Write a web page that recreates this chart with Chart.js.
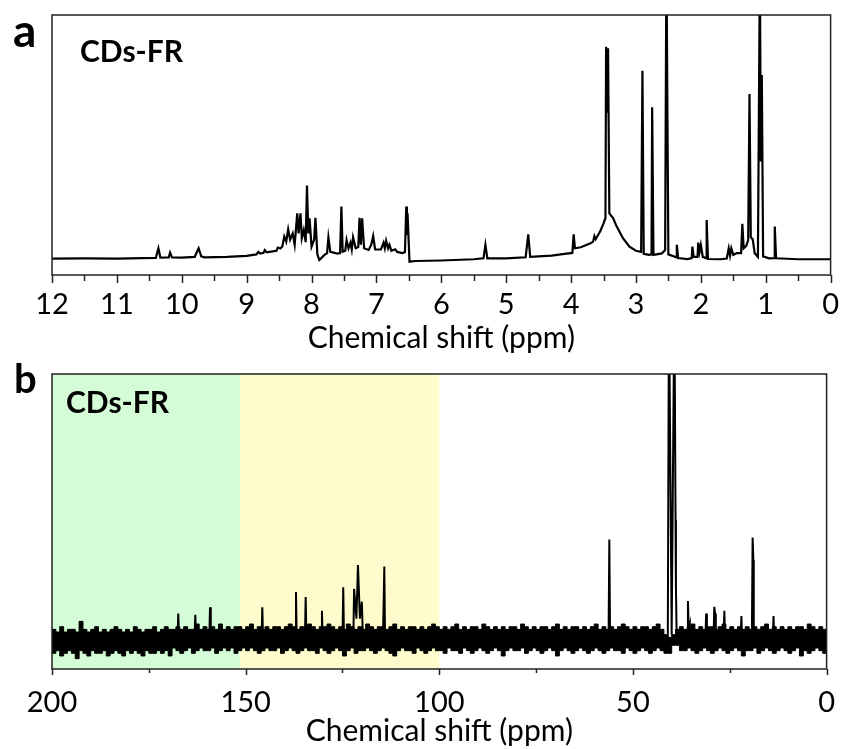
<!DOCTYPE html>
<html>
<head>
<meta charset="utf-8">
<script src="https://cdn.jsdelivr.net/npm/chart.js@4.4.0/dist/chart.umd.min.js"></script>
<style>
  body { margin: 0; background: #fff; }
  #wrap { position: relative; width: 843px; height: 749px; }
  canvas { position: absolute; left: 0; }
  #chartA { top: 0; }
  #chartB { top: 360px; }
</style>
</head>
<body>
<div id="wrap">
  <canvas id="chartA" width="843" height="360"></canvas>
  <canvas id="chartB" width="843" height="389"></canvas>
</div>
<script>
// ---- panel a: 1H spectrum (ppm, relative intensity; 100 = top of frame) ----
var hPpm = [12, 11.5, 11, 10.6, 10.4, 10.36, 10.33, 10.2, 10.18, 10.15, 10.0, 9.8, 9.74, 9.7, 9.65, 9.3, 9.0,
  8.85, 8.82, 8.79, 8.74, 8.72, 8.69, 8.6, 8.54, 8.52, 8.48, 8.45, 8.42, 8.39, 8.36, 8.33, 8.29, 8.26, 8.22, 8.2,
  8.17, 8.15, 8.12, 8.09, 8.07, 8.05, 8.03, 8.0, 7.96, 7.94, 7.91, 7.88, 7.8, 7.76, 7.74, 7.71, 7.6, 7.56, 7.54,
  7.52, 7.48, 7.46, 7.43, 7.4, 7.38, 7.36, 7.32, 7.28, 7.26, 7.24, 7.22, 7.19, 7.12, 7.08, 7.05, 7.02, 6.93, 6.89,
  6.87, 6.85, 6.82, 6.8, 6.77, 6.71, 6.68, 6.6, 6.56, 6.54, 6.53, 6.52, 6.49, 6.4, 6.0, 5.5, 5.35, 5.32, 5.29, 5.0,
  4.7, 4.66, 4.63, 4.3, 4.1, 3.98, 3.96, 3.94, 3.85, 3.7, 3.66, 3.64, 3.62, 3.55, 3.5, 3.47, 3.46, 3.445, 3.43,
  3.41, 3.35, 3.3, 3.2, 3.1, 3.0, 2.92, 2.9, 2.88, 2.8, 2.76, 2.75, 2.73, 2.6, 2.55, 2.53, 2.515, 2.5, 2.4, 2.38,
  2.37, 2.35, 2.2, 2.14, 2.13, 2.11, 2.05, 2.04, 2.02, 2.0, 1.97, 1.92, 1.91, 1.89, 1.7, 1.6, 1.57, 1.55, 1.53,
  1.5, 1.45, 1.38, 1.36, 1.34, 1.3, 1.27, 1.25, 1.23, 1.2, 1.17, 1.12, 1.09, 1.075, 1.06, 1.04, 0.95, 0.87, 0.86,
  0.84, 0.5, 0];
var hInt = [0.3, 0.4, 0.3, 0.5, 0.6, 4.5, 0.7, 0.8, 2.7, 0.8, 0.7, 1.0, 4.5, 1.2, 0.8, 1.0, 1.4,
  2.0, 3.0, 2.3, 2.6, 3.8, 2.8, 3.2, 3.5, 4.8, 4.4, 5.2, 9.3, 7.2, 12.3, 8.0, 10.6, 5.9, 18.8, 10.6,
  18.8, 8.6, 12, 7.0, 30.2, 10.6, 16.8, 5.2, 8.0, 17, 2.0, -0.3, 1.8, 2.5, 9, 3.0, 2.3, 2.5, 21.6,
  3.1, 3.5, 7.9, 4.5, 6.8, 4.0, 9, 4.5, 5, 17, 6, 16.8, 4.5, 3.8, 5.9, 9.5, 4.0, 4.0, 6.8,
  4.5, 7.6, 4.5, 5.9, 3.5, 4.1, 3.0, 2.5, 3.0, 21.6, 10, 18.8, -1.0, -0.7, -0.5, 0, 0.4, 5.9, 0.4, 0.4,
  0.8, 10.2, 1.0, 1.5, 2.2, 2.6, 10.2, 4.5, 4.9, 6.5, 7.2, 9.5, 8.3, 11.5, 14.7, 16.8, 87, 60, 86.4,
  18.8, 16.8, 13.6, 8.6, 5.2, 3.5, 3.0, 77.2, 2.2, 1.8, 2.0, 62.2, 1.8, 2.4, 3.8, 125, 59.8, 2.0, 1.0, 0.8,
  5.9, 0.5, 0.1, 0.5, 5.2, 1.0, 1.0, 6.8, 3.0, 5.9, 1.0, 0.5, 16.1, 0.1, 0, 0.3, 4.5, 1.5, 4.5,
  1.8, 2.5, 2.5, 14.5, 4.5, 5.5, 7.9, 67.7, 9, 8.2, 2.5, 1.0, 120, 40, 75.4, 1.2, 0.4, 0.5, 13.4,
  0.4, 0, 0];
var hMajorTicks = [12, 11, 10, 9, 8, 7, 6, 5, 4, 3, 2, 1, 0];
var hMinorTicks = [11.5, 10.5, 9.5, 8.5, 7.5, 6.5, 5.5, 4.5, 3.5, 2.5, 1.5, 0.5];

// ---- panel b: 13C spectrum ----
// resolved lines (ppm, intensity; baseline 0, 100 = top of frame)
var cPpm = [200, 192.8, 192.6, 192.4, 167.6, 167.4, 167.2, 163.2, 163, 162.8, 159.4, 159.2, 159,
  145.9, 145.7, 145.5, 137.2, 137, 136.8, 134.7, 134.5, 134.3, 130.5, 130.3, 130.1, 125, 124.8, 124.6,
  122.2, 122, 121.4, 121, 120.5, 120, 119.7, 114.6, 114.4, 114.2, 114, 56.3, 56.1, 55.9,
  41.0, 40.7, 40.0, 39.3, 39.0, 38.9, 38.7, 36, 35.8, 35.6, 35.3, 35.2, 31.3, 31.1, 30.9,
  29.2, 29, 28.8, 28.6, 26.6, 26.4, 26.2, 22.2, 22, 21.8, 19.3, 19.1, 18.9, 18.8, 13.9, 13.7, 13.5, 0];
var cInt = [0, 0, 7, 0, 0, 10, 0, 0, 9.5, 0, 0, 12.3, 0,
  0, 12.3, 0, 0, 18, 0, 0, 16.2, 0, 0, 11, 0, 0, 19.8, 0,
  0, 19.2, 8, 28.2, 8, 14.4, 0, 0, 11, 27.6, 0, 0, 37.8, 0,
  0, 130, 2, 130, 45, 20, 0, 0, 14.7, 4, 6, 0, 0, 10, 0,
  0, 12.5, 10, 0, 0, 11, 0, 0, 9, 0, 0, 38.5, 30, 0, 0, 9, 0, 0];
// noise band envelope, read every 1 ppm from 200 down to 0
var noiseHi = [
  3, 4, 3, 5, 3, 4, 4, 3, 7, 4, 3, 4, 5, 3, 4, 3, 4, 5, 4, 3,
  4, 3, 5, 4, 3, 4, 4, 5, 3, 4, 5, 4, 4, 5, 4, 5, 4, 4, 6, 4,
  5, 4, 5, 4, 6, 4, 5, 4, 5, 5, 4, 5, 6, 4, 5, 4, 5, 4, 5, 5,
  4, 5, 6, 5, 4, 5, 5, 6, 5, 4, 5, 5, 6, 5, 4, 5, 4, 6, 5, 4,
  5, 4, 6, 5, 4, 5, 5, 4, 5, 6, 4, 5, 4, 5, 5, 4, 5, 4, 5, 6,
  5, 4, 5, 4, 5, 6, 4, 5, 4, 5, 5, 4, 6, 5, 4, 5, 4, 5, 4, 5,
  5, 4, 6, 5, 4, 5, 4, 5, 5, 4, 5, 6, 4, 5, 4, 5, 5, 4, 5, 4,
  5, 6, 4, 5, 4, 5, 4, 5, 6, 5, 4, 5, 4, 5, 5, 4, 5, 6, 4, 2,
  1, 2, 4, 5, 4, 5, 6, 4, 5, 4, 5, 5, 4, 5, 6, 4, 5, 4, 5, 4,
  5, 4, 5, 4, 5, 6, 4, 5, 4, 5, 4, 5, 4, 5, 5, 4, 6, 5, 4, 5,
  4];
var noiseLo = [
  -5, -4, -6, -5, -4, -5, -7, -4, -5, -6, -4, -5, -5, -4, -6, -5, -4, -5, -6, -4,
  -5, -4, -5, -6, -4, -5, -5, -4, -5, -4, -6, -3, -4, -5, -4, -3, -5, -4, -3, -4,
  -4, -3, -5, -4, -3, -4, -3, -5, -4, -3, -4, -3, -4, -5, -4, -3, -4, -4, -3, -5,
  -4, -3, -4, -5, -4, -3, -4, -4, -5, -3, -4, -5, -4, -3, -4, -6, -4, -3, -5, -4,
  -4, -3, -4, -5, -4, -3, -4, -5, -6, -4, -3, -4, -4, -5, -3, -4, -5, -4, -3, -4,
  -4, -5, -3, -4, -4, -5, -3, -4, -5, -4, -3, -4, -5, -4, -3, -4, -6, -4, -3, -4,
  -4, -3, -5, -4, -3, -4, -5, -4, -3, -4, -6, -4, -3, -4, -5, -4, -3, -4, -5, -4,
  -3, -4, -5, -4, -3, -4, -4, -5, -3, -4, -5, -4, -3, -4, -5, -4, -3, -4, -5, -5,
  -2, -2, -4, -4, -3, -4, -5, -4, -3, -4, -5, -4, -3, -4, -5, -4, -3, -4, -6, -4,
  -4, -3, -5, -4, -3, -4, -5, -4, -3, -4, -5, -4, -3, -6, -4, -5, -4, -3, -4, -5,
  -4];
var cMajorTicks = [200, 150, 100, 50, 0];
var cMinorTicks = [175, 125, 75, 25];
// shaded regions
var regionFrom = [200, 151.5];
var regionTo = [151.5, 100];
var regionColor = ['#d4fcd6', '#fefccc'];

// Frame, shaded bands, tick marks and panel labels
var framePlugin = {
    id: 'frame',
    beforeDatasetsDraw: function(chart, args, opts) {
        var ctx = chart.ctx, ca = chart.chartArea, x = chart.scales.x;
        (opts.bands || []).forEach(function(b) {
            var x1 = x.getPixelForValue(b.from), x2 = x.getPixelForValue(b.to);
            ctx.fillStyle = b.color;
            ctx.fillRect(Math.min(x1, x2), ca.top, Math.abs(x2 - x1), ca.bottom - ca.top);
        });
    },
    afterDraw: function(chart, args, opts) {
        var ctx = chart.ctx, ca = chart.chartArea, x = chart.scales.x;
        ctx.save();
        ctx.strokeStyle = '#222';
        ctx.lineWidth = 1.5;
        ctx.strokeRect(ca.left, ca.top, ca.right - ca.left, ca.bottom - ca.top);
        ctx.beginPath();
        opts.major.forEach(function(v) {
            var px = Math.round(x.getPixelForValue(v)) + 0.5;
            ctx.moveTo(px, ca.bottom);
            ctx.lineTo(px, ca.bottom + opts.majorLen);
        });
        opts.minor.forEach(function(v) {
            var px = Math.round(x.getPixelForValue(v)) + 0.5;
            ctx.moveTo(px, ca.bottom);
            ctx.lineTo(px, ca.bottom + opts.minorLen);
        });
        ctx.stroke();
        ctx.fillStyle = '#000';
        ctx.textBaseline = 'alphabetic';
        ctx.font = 'bold ' + opts.letterSize + 'px Lato';
        ctx.fillText(opts.letter, opts.letterX, opts.letterY);
        ctx.font = 'bold 30px Lato';
        ctx.fillText('CDs-FR', opts.nameX, opts.nameY);
        ctx.restore();
    }
};

function xAxis(min, max, step, height, tickPad, titlePad) {
    return {
        type: 'linear', reverse: true, min: min, max: max,
        afterFit: function(s) { s.height = height; },
        grid: { display: false, drawTicks: true, tickLength: 8 },
        border: { display: false },
        ticks: {
            stepSize: step, autoSkip: false, maxRotation: 0, color: '#000', padding: tickPad,
            font: { family: 'Lato', size: 29 },
            callback: function(v) { return v; }
        },
        title: {
            display: true, text: 'Chemical shift (ppm)', color: '#000',
            font: { family: 'Lato', size: 30 }, padding: { top: 0, bottom: titlePad }
        }
    };
}

function points(xs, ys) {
    return xs.map(function(p, i) { return { x: p, y: ys[i] }; });
}

// Panel a
new Chart(document.getElementById('chartA'), {
    type: 'line',
    data: {
        datasets: [{
            data: points(hPpm, hInt),
            borderColor: '#000', borderWidth: 2.2, pointRadius: 0, tension: 0
        }]
    },
    options: {
        responsive: false, animation: false,
        layout: { padding: { left: 52, right: 11, top: 15, bottom: 0 } },
        plugins: {
            legend: { display: false }, tooltip: { enabled: false },
            frame: {
                major: hMajorTicks, minor: hMinorTicks, majorLen: 8, minorLen: 6,
                letter: 'a', letterSize: 46, letterX: 13, letterY: 47, nameX: 80, nameY: 62
            }
        },
        scales: {
            x: xAxis(0, 12, 1, 85, 4, 4),
            y: { display: false, min: -6.44, max: 100 }
        }
    },
    plugins: [framePlugin]
});

// Panel b
var ppmGrid = noiseHi.map(function(_, i) { return 200 - i; });
var bands = regionFrom.map(function(f, i) { return { from: f, to: regionTo[i], color: regionColor[i] }; });

new Chart(document.getElementById('chartB'), {
    type: 'line',
    data: {
        datasets: [{
            data: points(ppmGrid, noiseHi),
            borderColor: '#000', borderWidth: 1, backgroundColor: '#000',
            fill: '+1', pointRadius: 0, stepped: 'after'
        }, {
            data: points(ppmGrid, noiseLo),
            borderColor: '#000', borderWidth: 1, fill: false, pointRadius: 0, stepped: 'before'
        }, {
            data: points(cPpm, cInt),
            borderColor: '#000', borderWidth: 2, fill: false, pointRadius: 0, tension: 0
        }]
    },
    options: {
        responsive: false, animation: false,
        layout: { padding: { left: 52, right: 15, top: 14, bottom: 0 } },
        plugins: {
            legend: { display: false }, tooltip: { enabled: false },
            frame: {
                bands: bands,
                major: cMajorTicks, minor: cMinorTicks, majorLen: 6, minorLen: 4,
                letter: 'b', letterSize: 40, letterX: 14, letterY: 33, nameX: 66, nameY: 53
            }
        },
        scales: {
            x: xAxis(0, 200, 50, 80, 8, 0),
            y: { display: false, min: -10.9, max: 100 }
        }
    },
    plugins: [framePlugin]
});
</script>
</body>
</html>
